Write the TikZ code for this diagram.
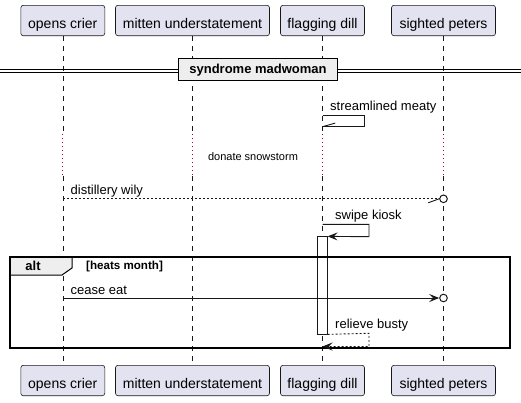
\documentclass[tikz,border=0pt]{standalone}
\usepackage{fontspec}
\setmainfont{Liberation Sans}
\usetikzlibrary{arrows.meta}
\definecolor{partfill}{HTML}{E2E2F0}
\definecolor{linec}{HTML}{181818}
\definecolor{delayc}{HTML}{A80036}
\definecolor{grpfill}{HTML}{EEEEEE}
\tikzset{
 participant/.style={draw=linec, fill=partfill, rounded corners=2.5pt, line width=0.6pt,
   minimum height=30.4pt, text height=15pt, text depth=0pt, inner xsep=0pt,
   font=\fontsize{14}{16}\selectfont},
 lifeline/.style={draw=linec, line width=0.5pt, dash pattern=on 5pt off 5pt},
 delayline/.style={draw=delayc, line width=0.9pt, dash pattern=on 0.9pt off 3.1pt},
 msg/.style={draw=linec, line width=0.9pt},
 retmsg/.style={msg, dash pattern=on 2pt off 2pt},
 msgtext/.style={anchor=base west, inner sep=0pt, font=\fontsize{13}{15}\selectfont},
 filledtip/.style={-{Stealth[length=10pt,width=8pt,inset=4pt]}},
 lostcircle/.style={draw=linec, line width=1pt, fill=white, circle, inner sep=0pt, minimum size=7.6pt},
}
\begin{document}
\begin{tikzpicture}[x=1pt,y=-1pt]
\useasboundingbox (0,0) rectangle (521,402);
% participants
\node[participant, minimum width=84pt]  (oc) at (62.8,20.5) {opens crier};
\node[participant, minimum width=154pt] (mu) at (192.5,20.5) {mitten understatement};
\node[participant, minimum width=84pt]  (fd) at (322.5,20.5) {flagging dill};
\node[participant, minimum width=104pt] (sp) at (443.5,20.5) {sighted peters};
\node[participant, minimum width=84pt]  (ocb) at (62.8,380.5) {opens crier};
\node[participant, minimum width=154pt] (mub) at (192.5,380.5) {mitten understatement};
\node[participant, minimum width=84pt]  (fdb) at (322.5,380.5) {flagging dill};
\node[participant, minimum width=104pt] (spb) at (443.5,380.5) {sighted peters};
% lifelines
\foreach \p/\q in {oc/ocb, mu/mub, fd/fdb, sp/spb}{
  \draw[lifeline] (\p.south) -- (\p.south |- 0,133);
  \draw[delayline] (\p.south |- 0,134) -- (\p.south |- 0,175);
  \draw[lifeline] (\p.south |- 0,176) -- (\q.north);
}
% divider
\draw[line width=0.8pt] (0,69.2) -- (521,69.2);
\draw[line width=0.8pt] (0,72.3) -- (521,72.3);
\node[draw=black, fill=grpfill, line width=1.5pt, minimum width=159pt, minimum height=22pt,
  inner sep=0pt, text height=10pt, text depth=2pt, font=\bfseries\fontsize{13}{15}\selectfont]
  (div) at (258,69.6) {syndrome madwoman};
% streamlined meaty (self)
\coordinate (s1a) at (fd.south |- 0,115.7);
\coordinate (s1b) at (364,115.7);
\coordinate (s1c) at (364,126.7);
\coordinate (s1d) at (fd.south |- 0,126.7);
\draw[msg] (s1a) -- (s1b) -- (s1c) -- (s1d);
\draw[msg] (s1d) -- ++(12.7,-3.6);
\node[msgtext] (t1) at (330,110) {streamlined meaty};
% delay
\node[anchor=base, inner sep=0pt, font=\fontsize{11}{13}\selectfont] (dly) at (253,160) {donate snowstorm};
% distillery wily
\node[lostcircle] (c1) at (sp.south |- 0,198.8) {};
\coordinate (d1a) at (oc.south |- 0,198.8);
\draw[retmsg] (d1a) -- (c1.west);
\draw[msg] (c1.west) -- ++(-11,4);
\node[msgtext] (t2) at (70.5,194.5) {distillery wily};
% activation
\node[draw=linec, fill=white, line width=0.7pt, minimum width=10pt, minimum height=97.3pt, inner sep=0pt]
  (act) at (322.3,285.35) {};
% swipe kiosk
\coordinate (s2a) at (fd.south |- 0,224.3);
\coordinate (s2b) at (369,224.3);
\coordinate (s2c) at (369,236.7);
\draw[msg, filledtip] (s2a) -- (s2b) -- (s2c) -- (act.north east);
\node[msgtext] (t3) at (335,219.5) {swipe kiosk};
% alt frame
\draw[line width=1pt, fill=grpfill] (10,257) -- (72,257) -- (72,268) -- (62,275) -- (10,275) -- cycle;
\draw[line width=1.5pt] (10,257) rectangle (510,348);
\node[anchor=base, inner sep=0pt, font=\bfseries\fontsize{13}{15}\selectfont] (alt) at (33,270.5) {alt};
\node[anchor=base west, inner sep=0pt, font=\bfseries\fontsize{11.6}{13}\selectfont] (grd) at (86,269) {[heats month]};
% cease eat
\node[lostcircle] (c2) at (sp.south |- 0,298) {};
\coordinate (e1a) at (oc.south |- 0,298);
\draw[msg, filledtip] (e1a) -- (c2.west);
\node[msgtext] (t4) at (70.5,294) {cease eat};
% relieve busty
\coordinate (r1b) at (369,333.3);
\coordinate (r1c) at (369,346.5);
\coordinate (r1d) at (fd.south |- 0,346.5);
\draw[retmsg, filledtip] (act.south east) -- (r1b) -- (r1c) -- (r1d);
\node[msgtext] (t5) at (335,328) {relieve busty};
\end{tikzpicture}
\end{document}
